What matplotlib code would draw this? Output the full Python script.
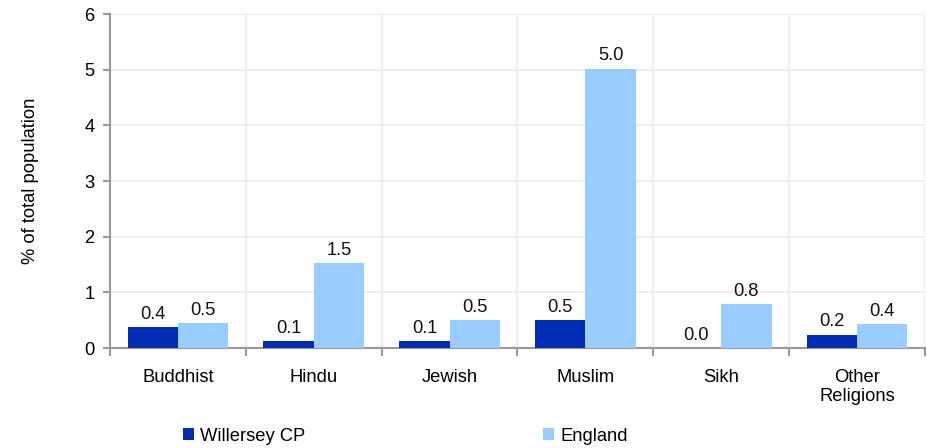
import numpy as np
import matplotlib
matplotlib.use("Agg")
from matplotlib import pyplot as plt

plt.rcParams['font.family'] = ['Liberation Sans', 'DejaVu Sans']

categories = ["Buddhist", "Hindu", "Jewish", "Muslim", "Sikh", "Other\nReligions"]
willersey = [0.38, 0.12, 0.12, 0.50, 0.0, 0.24]
england = [0.45, 1.52, 0.50, 5.02, 0.79, 0.43]
willersey_labels = ["0.4", "0.1", "0.1", "0.5", "0.0", "0.2"]
england_labels = ["0.5", "1.5", "0.5", "5.0", "0.8", "0.4"]

fs = 13.2

fig = plt.figure(figsize=(9.28, 4.48), dpi=100)
ax = fig.add_axes([110/928, 1 - 348/448, 815/928, 334/448])

x = np.arange(len(categories))
w = 0.37
b1 = ax.bar(x - w/2, willersey, w, color="#002db3", label="Willersey CP", zorder=3)
b2 = ax.bar(x + w/2, england, w, color="#99ccff", label="England", zorder=3)

# value labels above each bar
for bars, labs in [(b1, willersey_labels), (b2, england_labels)]:
    for bar, lab in zip(bars, labs):
        ax.annotate(lab, (bar.get_x() + bar.get_width()/2, bar.get_height()),
                    xytext=(0, 3), textcoords="offset points",
                    ha="center", va="bottom", fontsize=fs, color="#111111")

ax.set_xlim(-0.5, len(categories) - 0.5)
ax.set_ylim(0, 6)
ax.set_yticks(range(0, 7))
ax.set_xticks(x)
ax.set_xticklabels(categories, fontsize=fs, linespacing=1.15)
ax.set_xticks(np.arange(-0.5, len(categories)), minor=True)
ax.tick_params(axis="x", which="major", length=0, pad=15)
ax.tick_params(axis="x", which="minor", length=6, color="#999999", width=1.5)
ax.tick_params(axis="y", length=5, color="#999999", width=1.5, labelsize=fs, pad=6)
ax.grid(axis="y", color="#eeeeee", linewidth=1.5, zorder=0)
ax.grid(axis="x", which="minor", color="#eeeeee", linewidth=1.5, zorder=0)

for s in ["top", "right"]:
    ax.spines[s].set_visible(False)
for s in ["left", "bottom"]:
    ax.spines[s].set_color("#999999")
    ax.spines[s].set_linewidth(1.5)

ax.set_ylabel("% of total population", fontsize=fs, labelpad=33)

# legend: two entries placed apart at the bottom
leg_y = 1 - 436/448
for h, lx in [(b1, 183/928), (b2, 543/928)]:
    fig.legend(handles=[h], loc="center left", bbox_to_anchor=(lx, leg_y),
               frameon=False, fontsize=fs, handlelength=0.6, handleheight=0.6,
               handletextpad=0.35, borderaxespad=0, borderpad=0)

fig.savefig("out.png", dpi=100)
